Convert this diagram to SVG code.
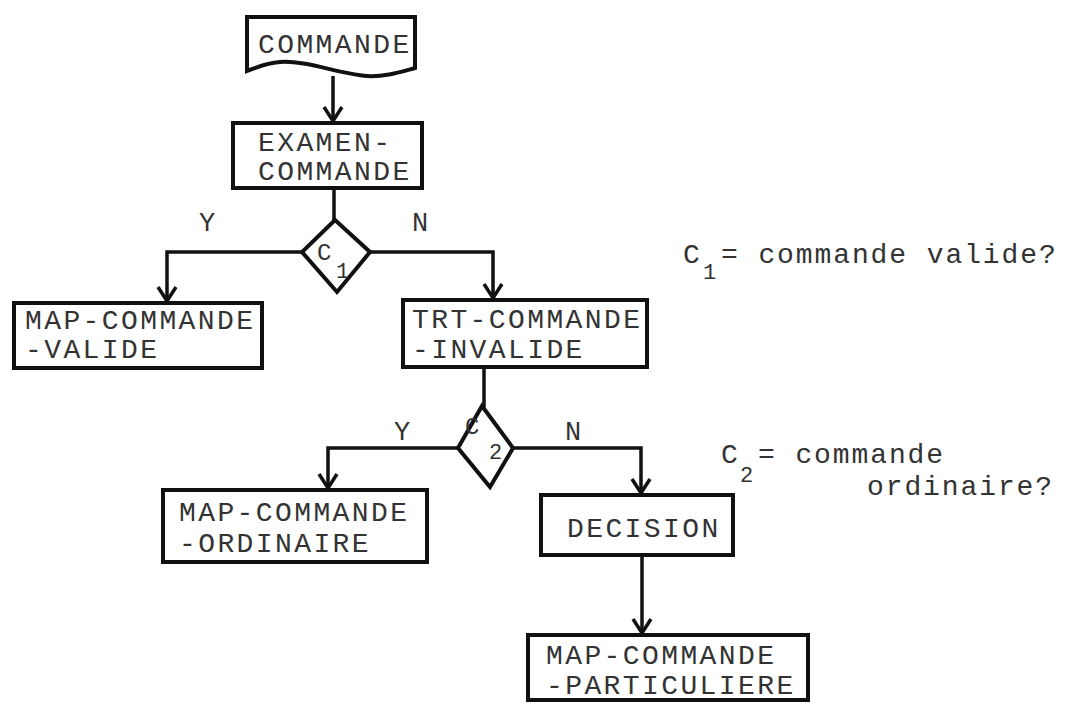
<svg xmlns="http://www.w3.org/2000/svg" width="1068" height="704" viewBox="0 0 1068 704">
  <style>
    .box { fill: #fff; stroke: #111; stroke-width: 4; stroke-linejoin: miter; }
    .dia { fill: #fff; stroke: #111; stroke-width: 4; stroke-linejoin: miter; }
    .conn { fill: none; stroke: #111; stroke-width: 3.5; }
    .t { font-family: "Liberation Mono", "DejaVu Sans Mono", monospace; font-size: 28px; letter-spacing: 2.4px; fill: #333; }
    .lbl { font-family: "Liberation Mono", "DejaVu Sans Mono", monospace; font-size: 27px; fill: #333; text-anchor: middle; }
    .c { font-family: "Liberation Mono", "DejaVu Sans Mono", monospace; font-size: 24px; fill: #333; }
    .sub { font-family: "Liberation Mono", "DejaVu Sans Mono", monospace; font-size: 22px; fill: #333; }
    .note { font-family: "Liberation Mono", "DejaVu Sans Mono", monospace; font-size: 28px; letter-spacing: 1.9px; fill: #333; }
  </style>
  <defs>
    <marker id="arrow" markerUnits="userSpaceOnUse" markerWidth="24" markerHeight="24" viewBox="-18 -12 24 24" refX="0" refY="0" orient="auto">
      <path d="M-14,-9 L0,0 L-14,9" fill="none" stroke="#111" stroke-width="3.5"/>
    </marker>
  </defs>
  <rect width="1068" height="704" fill="#fff"/>

  <!-- connectors -->
  <g id="connectors">
    <path class="conn" d="M333,76 V121" marker-end="url(#arrow)"/>
    <path class="conn" d="M334,188 V221"/>
    <path class="conn" d="M302,252 H167 V301" marker-end="url(#arrow)"/>
    <path class="conn" d="M370,252 H493 V298" marker-end="url(#arrow)"/>
    <path class="conn" d="M484,367 V407"/>
    <path class="conn" d="M458,448 H328 V488" marker-end="url(#arrow)"/>
    <path class="conn" d="M513,448 H641 V493" marker-end="url(#arrow)"/>
    <path class="conn" d="M642,555 V633" marker-end="url(#arrow)"/>
    <text class="lbl" x="207" y="231">Y</text>
    <text class="lbl" x="420" y="231">N</text>
    <text class="lbl" x="402" y="440">Y</text>
    <text class="lbl" x="573" y="440">N</text>
  </g>

  <!-- input document -->
  <g id="commande">
    <path class="box" d="M247,17 H415 V68 C400,72 385,77 367,76 C340,74 305,60 280,62 C265,63 255,68 247,71 Z"/>
    <text class="t" x="258" y="53">COMMANDE</text>
  </g>

  <g id="examen-commande">
    <rect class="box" x="233" y="123" width="189" height="65"/>
    <text class="t" x="258" y="151">EXAMEN-</text>
    <text class="t" x="258" y="180">COMMANDE</text>
  </g>

  <g id="c1">
    <polygon class="dia" points="335,220 370,252 337,292 302,252"/>
    <text class="c" x="317" y="260">C</text>
    <text class="sub" x="336" y="278">1</text>
  </g>

  <g id="map-commande-valide">
    <rect class="box" x="14" y="303" width="248" height="65"/>
    <text class="t" x="25" y="329">MAP-COMMANDE</text>
    <text class="t" x="25" y="358">-VALIDE</text>
  </g>

  <g id="trt-commande-invalide">
    <rect class="box" x="403" y="300" width="244" height="67"/>
    <text class="t" x="412" y="328">TRT-COMMANDE</text>
    <text class="t" x="412" y="358">-INVALIDE</text>
  </g>

  <g id="c2">
    <polygon class="dia" points="482,406 513,448 490,487 458,448"/>
    <text class="c" x="465" y="434">C</text>
    <text class="sub" x="489" y="459">2</text>
  </g>

  <g id="map-commande-ordinaire">
    <rect class="box" x="163" y="490" width="264" height="72"/>
    <text class="t" x="179" y="521">MAP-COMMANDE</text>
    <text class="t" x="179" y="552">-ORDINAIRE</text>
  </g>

  <g id="decision">
    <rect class="box" x="541" y="495" width="192" height="60"/>
    <text class="t" x="567" y="537">DECISION</text>
  </g>

  <g id="map-commande-particuliere">
    <rect class="box" x="528" y="635" width="280" height="65"/>
    <text class="t" x="546" y="664">MAP-COMMANDE</text>
    <text class="t" x="546" y="694">-PARTICULIERE</text>
  </g>

  <!-- condition legend -->
  <g id="legend-c1">
    <text class="note" x="683" y="263">C</text>
    <text class="sub" x="703" y="279">1</text>
    <text class="note" x="721" y="263">= commande valide?</text>
  </g>
  <g id="legend-c2">
    <text class="note" x="721" y="463">C</text>
    <text class="sub" x="740" y="482">2</text>
    <text class="note" x="758" y="463">= commande</text>
    <text class="note" x="867" y="495">ordinaire?</text>
  </g>
</svg>
